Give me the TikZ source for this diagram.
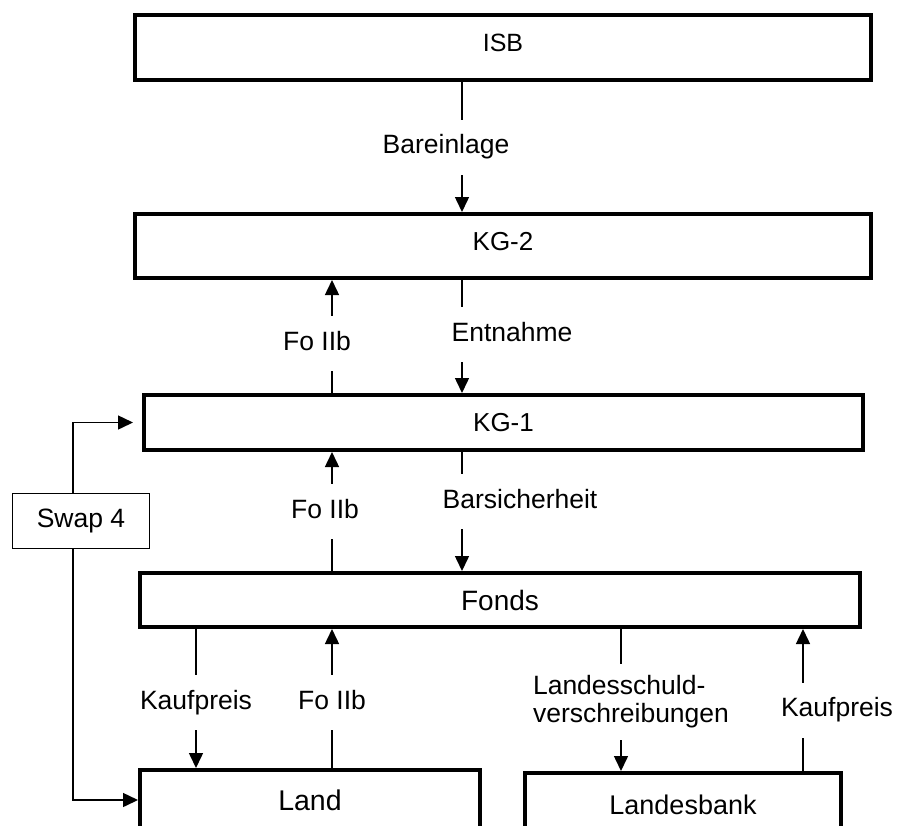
\documentclass[tikz,border=0pt]{standalone}
\usepackage{fontspec}
\setmainfont{Liberation Sans}
\usetikzlibrary{arrows.meta}
\tikzstyle{box} = [rectangle, draw, line width = 4pt, inner sep = 0pt, font = \fontsize{26}{30}\selectfont]
\tikzstyle{swapbox} = [rectangle, draw, line width = 1pt, inner sep = 0pt, font = \fontsize{26.5}{30}\selectfont]
\tikzstyle{lbl} = [fill = white, inner xsep = 3pt, inner ysep = 15pt, text height = 19pt, text depth = 6pt, font = \fontsize{26.5}{30}\selectfont]
\tikzstyle{lblm} = [fill = white, inner xsep = 3pt, inner ysep = 12pt, align = left, font = \fontsize{26.5}{28}\selectfont]
\tikzstyle{flow} = [-{Triangle[length = 15pt, width = 14pt]}, line width = 1.5pt]

\begin{document}
\begin{tikzpicture}[x = 1pt, y = -1pt]
        \useasboundingbox (0, 0) rectangle (901, 825);
        \clip (0, 0) rectangle (901, 825);

        \node (ISB) at (503, 47.5) [box, minimum width = 736, minimum height = 65, text depth = 9pt, font = \fontsize{25}{30}\selectfont] {ISB};
        \node (KG2) at (503, 246) [box, minimum width = 736, minimum height = 64, text depth = 9pt] {KG-2};
        \node (KG1) at (503.5, 422.5) [box, minimum width = 719, minimum height = 55] {KG-1};
        \node (Fonds) at (500, 600) [box, minimum width = 720, minimum height = 54, font = \fontsize{28}{32}\selectfont] {Fonds};
        \node (Land) at (310, 800) [box, minimum width = 340, minimum height = 60, font = \fontsize{28.5}{32}\selectfont] {Land};
        \node (Bank) at (683, 805) [box, minimum width = 316, minimum height = 64, font = \fontsize{27}{32}\selectfont] {Landesbank};
        \node (Swap) at (81, 521) [swapbox, minimum width = 137, minimum height = 55] {Swap 4};

        % columns of the flows
        \coordinate (colA) at (462, 0);
        \coordinate (colB) at (332, 0);
        \coordinate (colC) at (196, 0);
        \coordinate (colD) at (621, 0);
        \coordinate (colE) at (803, 0);

        \draw [flow] (ISB.south -| colA) -- node [lbl, xshift = -16pt] {Bareinlage} (KG2.north -| colA);
        \draw [flow] (KG2.south -| colA) -- node [lbl, xshift = 50pt, yshift = 2pt] {Entnahme} (KG1.north -| colA);
        \draw [flow] (KG1.north -| colB) -- node [lbl, xshift = -15pt, yshift = -7pt] {Fo IIb} (KG2.south -| colB);
        \draw [flow] (KG1.south -| colA) -- node [lbl, xshift = 58pt, yshift = 10pt] {Barsicherheit} (Fonds.north -| colA);
        \draw [flow] (Fonds.north -| colB) -- node [lbl, xshift = -7pt] {Fo IIb} (KG1.south -| colB);
        \draw [flow] (Fonds.south -| colC) -- node [lbl, yshift = -4pt] {Kaufpreis} (Land.north -| colC);
        \draw [flow] (Land.north -| colB) -- node [lbl, yshift = -4pt] {Fo IIb} (Fonds.south -| colB);
        \draw [flow] (Fonds.south -| colD) -- node [lblm, xshift = 10pt, yshift = -2pt] {Landesschuld-\\verschreibungen} (Bank.north -| colD);
        \draw [flow] (Bank.north -| colE) -- node [lbl, xshift = 34pt, yshift = -10pt] {Kaufpreis} (Fonds.south -| colE);

        \draw [flow] ([xshift = -8pt]Swap.north) |- ([xshift = -9pt]KG1.west);
        \draw [flow] ([xshift = -8pt]Swap.south) |- (Land.west);
    \end{tikzpicture}
\end{document}
